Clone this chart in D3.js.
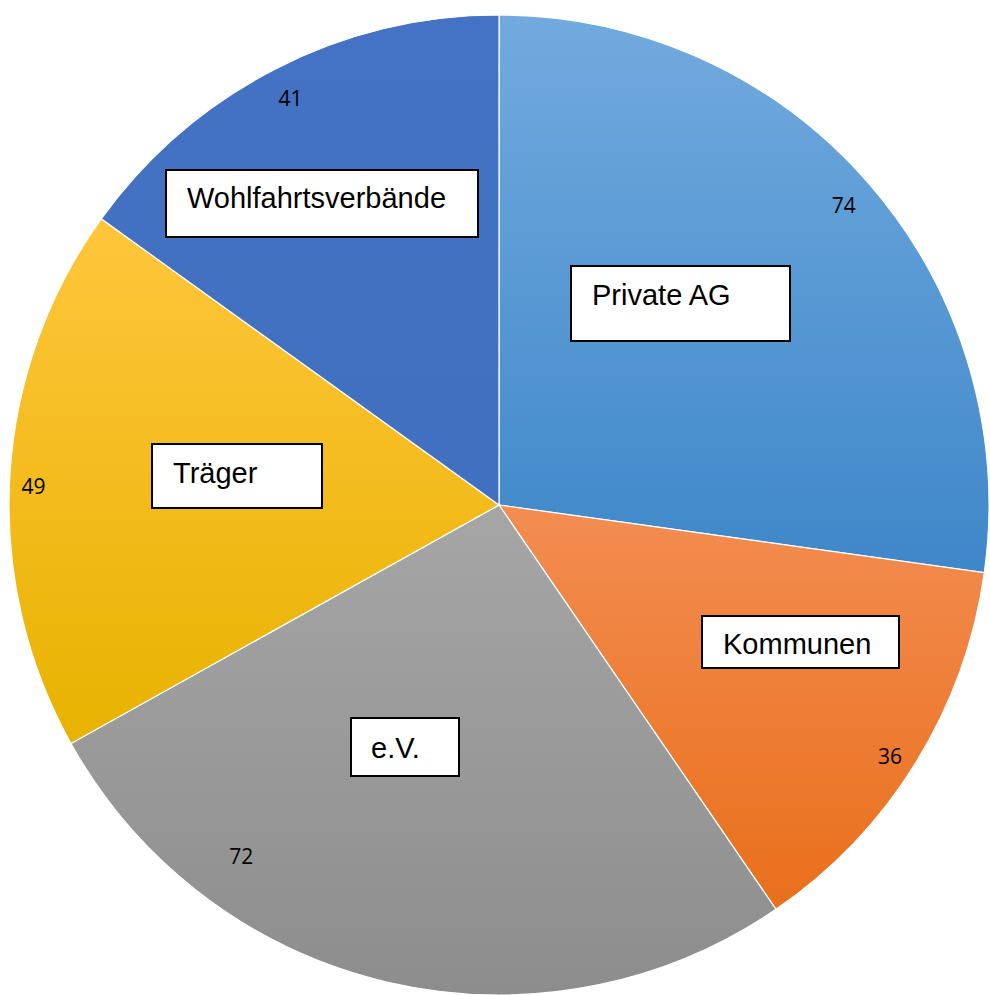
<!DOCTYPE html>
<html>
<head>
<meta charset="utf-8">
<script src="https://cdn.jsdelivr.net/npm/d3@7"></script>
<style>
  html, body { margin: 0; padding: 0; background: #ffffff; }
  svg { display: block; }
</style>
</head>
<body>
<div id="chart"></div>
<script>
// data
const categories = ['Private AG', 'Kommunen', 'e.V.', 'Träger', 'Wohlfahrtsverbände'];
const values = [74, 36, 72, 49, 41];

// gradient colours, top -> bottom of each slice
const colorsTop = ['#72aade', '#f38d52', '#a6a6a6', '#ffc63c', '#4472c4'];
const colorsBottom = ['#3e87c9', '#e96f1b', '#8d8d8d', '#e8b200', '#4270c0'];

// manual placement of the name boxes (as in the original document)
const boxLayout = [
    {x: 571, y: 266, w: 219, h: 75, tx: 21, ty: 39},
    {x: 702, y: 616, w: 197, h: 52, tx: 21, ty: 38},
    {x: 351, y: 718, w: 108, h: 58, tx: 20, ty: 40},
    {x: 152, y: 444, w: 170, h: 64, tx: 21, ty: 39},
    {x: 166, y: 170, w: 312, h: 67, tx: 21, ty: 38}
];
// value labels: angle shift (deg) and radius per slice
const valueLabelShift = [0, 1, 23, -1, 0];
const valueLabelRadius = [457, 465, 436, 466, 457];

const width = 990, height = 995;
const cx = 499, cy = 505, radius = 490;

const svg = d3.select('#chart')
    .append('svg')
    .attr('width', width)
    .attr('height', height);

const data = categories.map((c, i) => ({name: c, value: values[i], i: i}));

const pie = d3.pie()
    .value(d => d.value)
    .sort(null);

const arc = d3.arc()
    .innerRadius(0)
    .outerRadius(radius);

const arcs = pie(data);

// gradients per slice
const defs = svg.append('defs');
arcs.forEach((a, i) => {
    const g = defs.append('linearGradient')
        .attr('id', 'grad' + i)
        .attr('x1', 0).attr('y1', 0)
        .attr('x2', 0).attr('y2', 1);
    g.append('stop').attr('offset', '0%').attr('stop-color', colorsTop[i]);
    g.append('stop').attr('offset', '100%').attr('stop-color', colorsBottom[i]);
});

const g = svg.append('g')
    .attr('transform', `translate(${cx},${cy})`);

g.selectAll('path')
    .data(arcs)
    .enter()
    .append('path')
    .attr('d', arc)
    .attr('fill', (d, i) => `url(#grad${i})`)
    .attr('stroke', '#ffffff')
    .attr('stroke-width', 1.2);

// value labels
g.selectAll('text.value')
    .data(arcs)
    .enter()
    .append('text')
    .attr('class', 'value')
    .attr('transform', (d, i) => {
        const a = (d.startAngle + d.endAngle) / 2 + valueLabelShift[i] * Math.PI / 180;
        const r = valueLabelRadius[i];
        return `translate(${r * Math.sin(a)},${-r * Math.cos(a)})`;
    })
    .attr('text-anchor', 'middle')
    .attr('dy', '0.36em')
    .style('font-family', '"Open Sans", sans-serif')
    .style('font-size', '21px')
    .style('fill', '#000000')
    .text(d => d.data.value);

// name boxes
const boxes = svg.selectAll('g.box')
    .data(data)
    .enter()
    .append('g')
    .attr('class', 'box')
    .attr('transform', (d, i) => `translate(${boxLayout[i].x},${boxLayout[i].y})`);

boxes.append('rect')
    .attr('width', (d, i) => boxLayout[i].w)
    .attr('height', (d, i) => boxLayout[i].h)
    .attr('fill', '#ffffff')
    .attr('stroke', '#000000')
    .attr('stroke-width', 2);

boxes.append('text')
    .attr('x', (d, i) => boxLayout[i].tx)
    .attr('y', (d, i) => boxLayout[i].ty)
    .style('font-family', '"Liberation Sans", Arial, sans-serif')
    .style('font-size', '29px')
    .style('fill', '#000000')
    .text(d => d.name);
</script>
</body>
</html>
